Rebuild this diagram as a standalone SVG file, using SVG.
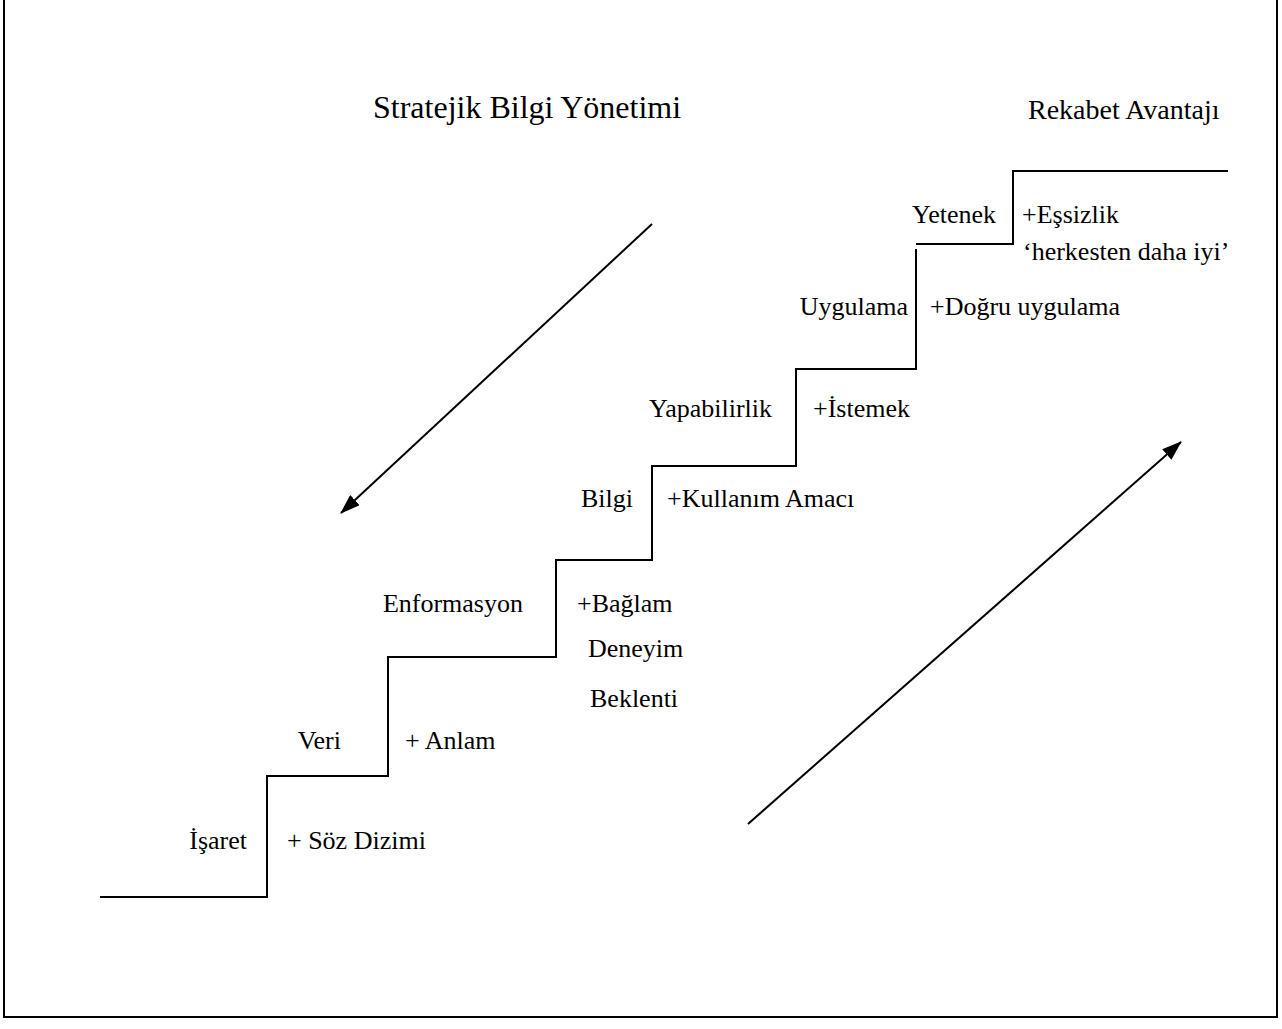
<svg xmlns="http://www.w3.org/2000/svg" width="1282" height="1029" viewBox="0 0 1282 1029">
  <style>
    .frame { fill: none; stroke: #000; stroke-width: 2; }
    .stair { fill: none; stroke: #000; stroke-width: 2; stroke-linejoin: miter; }
    .arrow { fill: none; stroke: #000; stroke-width: 2; }
    text { font-family: "Liberation Serif", "Times New Roman", serif; fill: #000; }
    .lbl { font-size: 26px; }
    .title { font-size: 32px; }
    .corner { font-size: 28px; }
  </style>
  <defs>
    <marker id="head" markerUnits="userSpaceOnUse" viewBox="0 0 20 14" markerWidth="20" markerHeight="14" refX="19" refY="7" orient="auto">
      <path d="M0,0 L20,7 L0,14 z" fill="#000"/>
    </marker>
  </defs>

  <rect width="1282" height="1029" fill="#fff"/>

  <!-- outer frame, top edge runs off the page -->
  <path class="frame" d="M4,-10 V1017 H1277 V-10"/>

  <!-- staircase -->
  <g id="stairs">
    <path class="stair" d="M100,897 H267 V776 H388 V657 H556 V560 H652 V466 H796 V369 H916 V249"/>
    <path class="stair" d="M916,244 H1013 V171 H1228"/>
  </g>

  <!-- direction arrows -->
  <g id="connectors">
    <line class="arrow" x1="652" y1="224" x2="341" y2="513" marker-end="url(#head)"/>
    <line class="arrow" x1="748" y1="824" x2="1181" y2="442" marker-end="url(#head)"/>
  </g>

  <g id="title">
    <text class="title" x="373" y="118">Stratejik Bilgi Yönetimi</text>
  </g>
  <g id="rekabet">
    <text class="corner" x="1028" y="119">Rekabet Avantajı</text>
  </g>

  <g id="isaret">
    <text class="lbl" x="247" y="849" text-anchor="end">İşaret</text>
    <text class="lbl" x="287" y="849">+ Söz Dizimi</text>
  </g>
  <g id="veri">
    <text class="lbl" x="341" y="749" text-anchor="end">Veri</text>
    <text class="lbl" x="405" y="749">+ Anlam</text>
  </g>
  <g id="enformasyon">
    <text class="lbl" x="523" y="612" text-anchor="end">Enformasyon</text>
    <text class="lbl" x="577" y="612">+Bağlam</text>
    <text class="lbl" x="588" y="657">Deneyim</text>
    <text class="lbl" x="590" y="707">Beklenti</text>
  </g>
  <g id="bilgi">
    <text class="lbl" x="633" y="507" text-anchor="end">Bilgi</text>
    <text class="lbl" x="667" y="507">+Kullanım Amacı</text>
  </g>
  <g id="yapabilirlik">
    <text class="lbl" x="772" y="417" text-anchor="end">Yapabilirlik</text>
    <text class="lbl" x="813" y="417">+İstemek</text>
  </g>
  <g id="uygulama">
    <text class="lbl" x="908" y="315" text-anchor="end">Uygulama</text>
    <text class="lbl" x="930" y="315">+Doğru uygulama</text>
  </g>
  <g id="yetenek">
    <text class="lbl" x="996" y="223" text-anchor="end">Yetenek</text>
    <text class="lbl" x="1022" y="223">+Eşsizlik</text>
    <text class="lbl" x="1023" y="260">‘herkesten daha iyi’</text>
  </g>
</svg>
